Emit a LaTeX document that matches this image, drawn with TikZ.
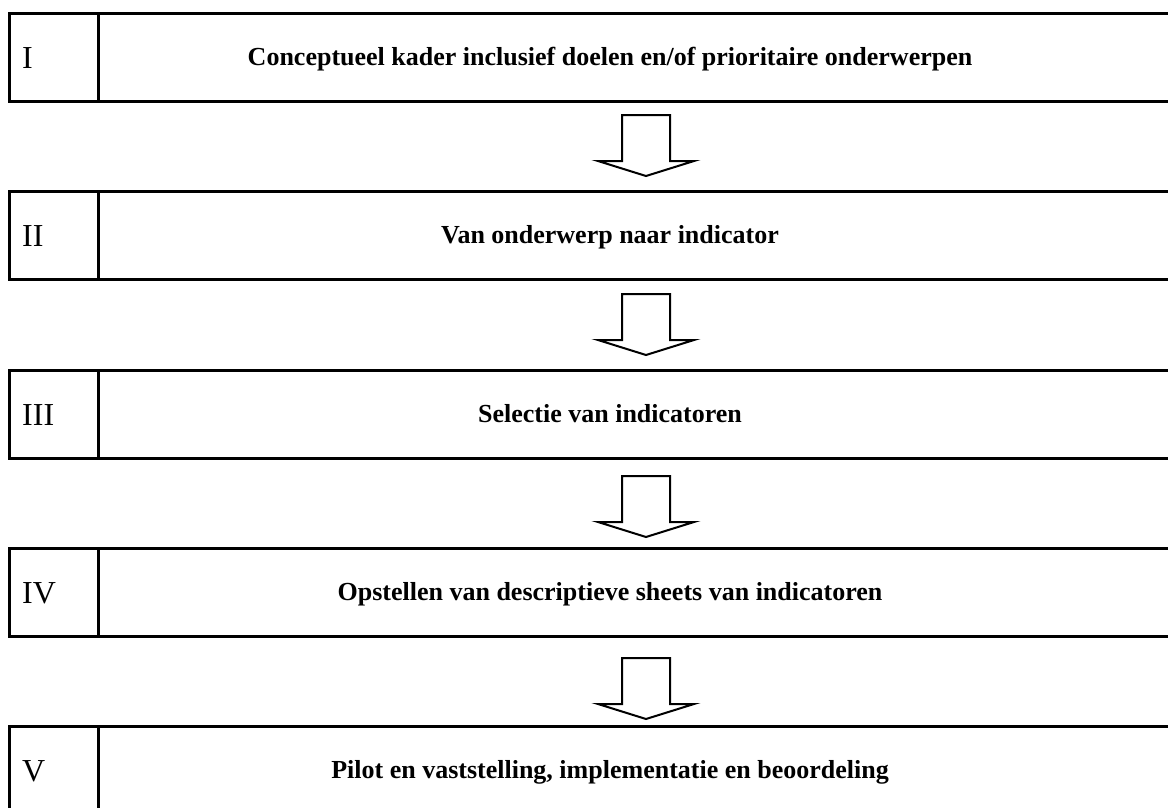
\documentclass[tikz,border=0pt]{standalone}
\usepackage{fontspec}
\setmainfont{Liberation Serif}
\tikzset{
  cellbox/.style={draw, line width=3pt, inner sep=0pt, minimum height=88pt, anchor=north west},
  numcell/.style={cellbox, minimum width=89pt},
  textcell/.style={cellbox, minimum width=1090pt},
  numtxt/.style={font=\fontsize{32}{32}\selectfont, anchor=base west, inner sep=0pt},
  steptxt/.style={font=\bfseries\fontsize{26}{26}\selectfont, anchor=base, inner sep=0pt},
  blockarrow/.style={draw, line width=2pt, fill=white, line join=miter}
}
\begin{document}
\begin{tikzpicture}[x=1pt,y=-1pt]
\useasboundingbox (0,0) rectangle (1168,807);
\clip (0,0) rectangle (1168,807);
\foreach \i/\t/\num/\lab in {1/12/I/{Conceptueel kader inclusief doelen en/of prioritaire onderwerpen},
                           2/190/II/{Van onderwerp naar indicator},
                           3/369/III/{Selectie van indicatoren},
                           4/547/IV/{Opstellen van descriptieve sheets van indicatoren},
                           5/725/V/{Pilot en vaststelling, implementatie en beoordeling}}{
  \node[numcell] (c\i) at (8,\t) {};
  \node[textcell] (t\i) at (97,\t) {};
  \node[numtxt] (n\i) at (22,\t+56) {\num};
  \node[steptxt] (l\i) at (610,\t+53) {\lab};
}
\foreach \a/\y in {1/115,2/294,3/476,4/658}{
  \coordinate (a\a) at (646,\y);
  \draw[blockarrow] ([xshift=-24pt]a\a) -- ([xshift=24pt]a\a)
    -- ([shift={(24pt,-46pt)}]a\a) -- ([shift={(48pt,-46pt)}]a\a)
    -- ([yshift=-61pt]a\a) -- ([shift={(-48pt,-46pt)}]a\a)
    -- ([shift={(-24pt,-46pt)}]a\a) -- cycle;
}
\end{tikzpicture}
\end{document}
